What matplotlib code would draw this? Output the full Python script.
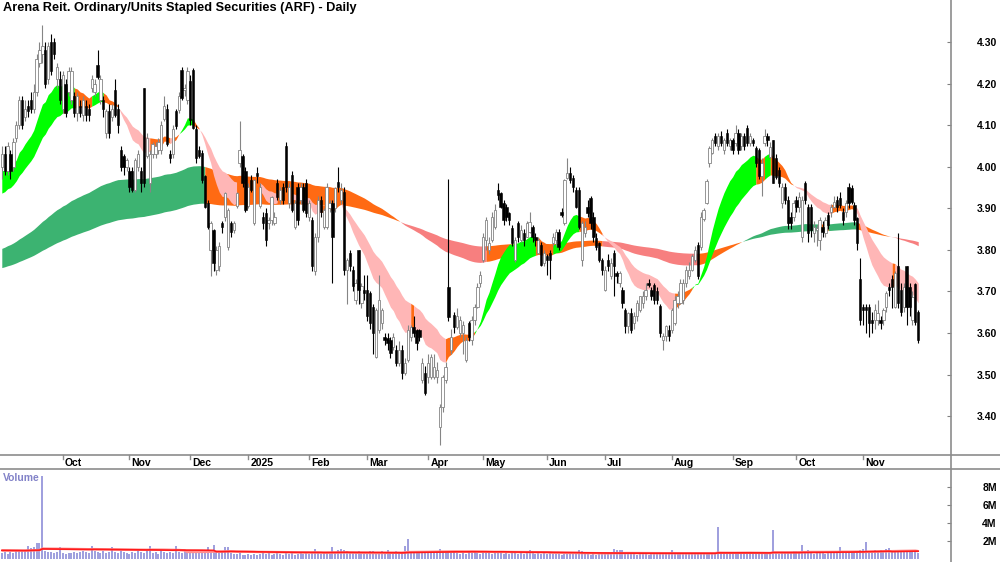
import numpy as np
import pandas as pd
import matplotlib
matplotlib.use('Agg')
import matplotlib.pyplot as plt
from matplotlib.lines import Line2D
from matplotlib.transforms import blended_transform_factory

plt.rcParams['font.family'] = ['Liberation Sans', 'DejaVu Sans']

# ── Data (one line per month) ────────────────────────────────
title = 'Arena Reit. Ordinary/Units Stapled Securities (ARF) - Daily'
asx_holidays = ['2024-12-25', '2024-12-26', '2025-01-01', '2025-01-27',
                '2025-04-18', '2025-04-21', '2025-04-25', '2025-06-09']

opens = [
    4.00, 4.03, 3.99, 4.03, 4.00, 4.07, 4.10, 4.16, 4.12, 4.145, 4.16, 4.14, 4.18, 4.25, 4.27, 4.28, 4.21, 4.30, 4.30, 4.21, 4.21,
    4.14, 4.20, 4.18, 4.16, 4.17, 4.13, 4.145, 4.125, 4.145, 4.14, 4.19, 4.18, 4.245, 4.16, 4.16, 4.08, 4.135, 4.12, 4.185, 4.14, 4.04, 4.025, 4.00,
    3.99, 3.99, 3.945, 4.00, 3.99, 4.19, 4.025, 3.96, 4.03, 4.03, 4.04, 4.04, 4.115, 4.14, 4.03, 4.03, 4.133, 4.137, 4.233, 4.185, 4.16,
    4.205, 4.233, 4.09, 4.04, 4.033, 3.977, 3.912, 3.80, 3.848, 3.752, 3.76, 3.864, 3.88, 3.808, 3.864, 3.848, 3.905, 4.009, 4.025, 3.99,
    3.905, 3.968, 3.864, 3.985, 3.905, 3.88, 3.888, 3.864, 3.872, 3.864, 3.96, 3.92, 3.952, 4.049, 3.912, 3.98, 3.856, 3.952, 3.92, 3.952, 3.96,
    3.88, 3.872, 3.75, 3.832, 3.92, 3.856, 3.856, 3.90, 3.912, 3.90, 3.964, 3.92, 3.94, 3.752, 3.792, 3.752, 3.68, 3.80, 3.672, 3.704,
    3.704, 3.695, 3.663, 3.543, 3.607, 3.623, 3.591, 3.587, 3.583, 3.567, 3.56, 3.527, 3.56, 3.503, 3.535, 3.591, 3.615, 3.607, 3.607, 3.487, 3.503,
    3.495, 3.495, 3.495, 3.495, 3.375, 3.423, 3.487, 3.711, 3.56, 3.643, 3.615, 3.599, 3.60, 3.535, 3.623, 3.583, 3.631, 3.663, 3.72,
    3.776, 3.824, 3.80, 3.824, 3.856, 3.944, 3.936, 3.912, 3.904, 3.888, 3.852, 3.776, 3.864, 3.824, 3.84, 3.832, 3.844, 3.856, 3.832, 3.792, 3.812, 3.768,
    3.784, 3.792, 3.816, 3.824, 3.844, 3.892, 3.864, 3.972, 3.984, 3.972, 3.944, 3.944, 3.776, 3.84, 3.904, 3.924, 3.88, 3.828, 3.816, 3.776,
    3.704, 3.776, 3.736, 3.792, 3.744, 3.72, 3.704, 3.656, 3.616, 3.648, 3.624, 3.64, 3.656, 3.672, 3.688, 3.72, 3.704, 3.716, 3.70, 3.664, 3.584, 3.592, 3.608,
    3.608, 3.624, 3.672, 3.672, 3.68, 3.72, 3.736, 3.752, 3.776, 3.812, 3.808, 3.873, 3.913, 4.009, 4.033, 4.073, 4.049, 4.073, 4.041, 4.081, 4.049,
    4.065, 4.057, 4.081, 4.049, 4.073, 4.093, 4.057, 4.065, 4.045, 4.041, 3.977, 4.057, 4.073, 4.024, 4.064, 4.02, 3.992, 3.912, 3.952, 3.92, 3.88, 3.88,
    3.92, 3.904, 3.832, 3.96, 3.904, 3.904, 3.84, 3.848, 3.824, 3.856, 3.84, 3.884, 3.892, 3.904, 3.92, 3.924, 3.892, 3.892, 3.952, 3.948, 3.908, 3.876, 3.731,
    3.663, 3.663, 3.663, 3.631, 3.631, 3.631, 3.631, 3.631, 3.663, 3.711, 3.731, 3.663, 3.76, 3.703, 3.663, 3.76, 3.711, 3.631, 3.719, 3.651,
]

closes = [
    4.03, 3.99, 4.05, 3.99, 4.06, 4.10, 4.16, 4.10, 4.14, 4.135, 4.14, 4.18, 4.26, 4.28, 4.29, 4.20, 4.29, 4.23, 4.27, 4.24, 4.16,
    4.22, 4.13, 4.23, 4.23, 4.13, 4.17, 4.13, 4.16, 4.125, 4.125, 4.21, 4.20, 4.215, 4.21, 4.14, 4.135, 4.08, 4.14, 4.125, 4.10, 4.00, 4.00, 4.015,
    3.95, 3.945, 4.015, 4.03, 3.96, 3.96, 4.07, 4.03, 4.055, 4.05, 4.06, 4.10, 4.145, 4.055, 4.02, 4.09, 4.097, 4.17, 4.165, 4.19, 4.23,
    4.113, 4.093, 4.02, 4.025, 3.968, 3.904, 3.856, 3.864, 3.768, 3.80, 3.81, 3.856, 3.936, 3.896, 3.844, 3.864, 3.936, 4.04, 3.96, 3.896,
    3.952, 3.944, 3.968, 3.977, 3.952, 3.864, 3.824, 3.872, 3.928, 3.88, 3.928, 3.944, 3.92, 3.952, 3.952, 3.896, 3.912, 3.872, 3.952, 3.896, 3.888,
    3.912, 3.76, 3.83, 3.92, 3.892, 3.896, 3.952, 3.912, 3.832, 3.948, 3.952, 3.944, 3.752, 3.776, 3.76, 3.712, 3.72, 3.704, 3.712, 3.696,
    3.64, 3.623, 3.60, 3.655, 3.68, 3.655, 3.583, 3.575, 3.551, 3.591, 3.527, 3.56, 3.503, 3.527, 3.607, 3.615, 3.599, 3.575, 3.591, 3.527, 3.455,
    3.527, 3.543, 3.519, 3.511, 3.423, 3.495, 3.519, 3.639, 3.59, 3.615, 3.64, 3.631, 3.62, 3.583, 3.591, 3.631, 3.663, 3.711, 3.74,
    3.832, 3.872, 3.816, 3.88, 3.896, 3.932, 3.904, 3.872, 3.88, 3.872, 3.816, 3.824, 3.832, 3.848, 3.824, 3.864, 3.868, 3.832, 3.824, 3.824, 3.764, 3.792,
    3.776, 3.776, 3.832, 3.844, 3.808, 3.884, 3.968, 3.984, 3.968, 3.952, 3.904, 3.856, 3.864, 3.856, 3.888, 3.864, 3.832, 3.808, 3.776, 3.752,
    3.752, 3.76, 3.768, 3.76, 3.736, 3.744, 3.672, 3.616, 3.648, 3.608, 3.64, 3.672, 3.688, 3.688, 3.704, 3.716, 3.688, 3.68, 3.68, 3.60, 3.592, 3.616, 3.592,
    3.656, 3.68, 3.688, 3.72, 3.72, 3.752, 3.752, 3.784, 3.80, 3.736, 3.88, 3.897, 3.965, 4.045, 4.065, 4.057, 4.073, 4.057, 4.065, 4.057, 4.065,
    4.041, 4.081, 4.041, 4.073, 4.049, 4.057, 4.073, 4.057, 4.009, 3.977, 4.009, 4.073, 4.065, 4.048, 3.96, 3.976, 3.96, 3.952, 3.92, 3.864, 3.864, 3.912,
    3.904, 3.928, 3.92, 3.92, 3.84, 3.848, 3.856, 3.852, 3.872, 3.844, 3.872, 3.86, 3.904, 3.916, 3.904, 3.908, 3.872, 3.912, 3.912, 3.916, 3.872, 3.816, 3.631,
    3.655, 3.655, 3.623, 3.623, 3.655, 3.647, 3.623, 3.655, 3.695, 3.703, 3.711, 3.744, 3.671, 3.651, 3.711, 3.663, 3.663, 3.687, 3.627, 3.583,
]

highs = [
    4.05, 4.05, 4.06, 4.04, 4.07, 4.11, 4.17, 4.17, 4.16, 4.16, 4.18, 4.20, 4.27, 4.30, 4.34, 4.30, 4.30, 4.32, 4.31, 4.25, 4.23,
    4.23, 4.21, 4.24, 4.24, 4.18, 4.18, 4.16, 4.17, 4.16, 4.15, 4.22, 4.21, 4.28, 4.22, 4.17, 4.14, 4.15, 4.15, 4.21, 4.15, 4.05, 4.03, 4.02,
    4.00, 4.00, 4.02, 4.04, 4.00, 4.19, 4.08, 4.04, 4.06, 4.06, 4.07, 4.11, 4.17, 4.15, 4.04, 4.10, 4.14, 4.18, 4.24, 4.20, 4.24,
    4.22, 4.237, 4.10, 4.05, 4.04, 3.98, 3.92, 3.87, 3.85, 3.81, 3.82, 3.87, 3.94, 3.90, 3.87, 3.87, 3.94, 4.11, 4.03, 4.00,
    3.96, 3.98, 3.97, 4.00, 3.96, 3.89, 3.90, 3.88, 3.93, 3.89, 3.97, 3.95, 3.96, 4.06, 3.96, 3.99, 3.92, 3.96, 3.96, 3.96, 3.97,
    3.92, 3.88, 3.84, 3.93, 3.93, 3.90, 3.96, 3.92, 3.92, 3.95, 4.00, 3.96, 3.95, 3.78, 3.80, 3.76, 3.73, 3.80, 3.72, 3.74,
    3.74, 3.70, 3.67, 3.66, 3.74, 3.66, 3.60, 3.60, 3.59, 3.60, 3.57, 3.58, 3.57, 3.54, 3.62, 3.62, 3.64, 3.61, 3.61, 3.54, 3.52,
    3.55, 3.55, 3.55, 3.53, 3.43, 3.50, 3.53, 3.97, 3.61, 3.65, 3.66, 3.64, 3.63, 3.59, 3.63, 3.64, 3.67, 3.72, 3.75,
    3.84, 3.88, 3.83, 3.89, 3.91, 3.96, 3.94, 3.92, 3.91, 3.89, 3.86, 3.83, 3.87, 3.86, 3.85, 3.87, 3.89, 3.86, 3.84, 3.83, 3.82, 3.80,
    3.79, 3.80, 3.84, 3.85, 3.85, 3.90, 3.97, 4.02, 4.00, 3.98, 3.95, 3.95, 3.87, 3.87, 3.92, 3.93, 3.89, 3.84, 3.82, 3.78,
    3.76, 3.79, 3.78, 3.80, 3.75, 3.75, 3.71, 3.66, 3.65, 3.66, 3.65, 3.68, 3.69, 3.70, 3.72, 3.73, 3.71, 3.72, 3.71, 3.67, 3.60, 3.62, 3.62,
    3.66, 3.69, 3.70, 3.73, 3.73, 3.76, 3.77, 3.79, 3.81, 3.82, 3.89, 3.90, 3.97, 4.05, 4.07, 4.08, 4.08, 4.085, 4.07, 4.09, 4.07,
    4.07, 4.10, 4.09, 4.08, 4.08, 4.10, 4.08, 4.07, 4.05, 4.045, 4.02, 4.09, 4.08, 4.06, 4.065, 4.03, 4.00, 3.96, 3.96, 3.93, 3.89, 3.92,
    3.93, 3.94, 3.93, 3.965, 3.91, 3.91, 3.87, 3.86, 3.88, 3.87, 3.88, 3.89, 3.91, 3.93, 3.93, 3.94, 3.90, 3.92, 3.96, 3.955, 3.915, 3.88, 3.78,
    3.67, 3.67, 3.67, 3.65, 3.67, 3.68, 3.64, 3.66, 3.70, 3.72, 3.74, 3.75, 3.84, 3.72, 3.72, 3.76, 3.72, 3.70, 3.72, 3.655,
]

lows = [
    3.97, 3.98, 3.98, 3.97, 3.99, 4.06, 4.09, 4.09, 4.11, 4.12, 4.13, 4.13, 4.17, 4.24, 4.25, 4.19, 4.20, 4.22, 4.26, 4.19, 4.15,
    4.13, 4.12, 4.17, 4.15, 4.12, 4.11, 4.12, 4.11, 4.11, 4.11, 4.18, 4.17, 4.21, 4.15, 4.12, 4.07, 4.07, 4.11, 4.12, 4.08, 3.99, 3.98, 3.99,
    3.94, 3.94, 3.94, 3.99, 3.94, 3.95, 4.02, 3.94, 4.02, 4.02, 4.03, 4.03, 4.11, 4.05, 4.01, 4.02, 4.09, 4.13, 4.16, 4.17, 4.15,
    4.10, 4.09, 4.01, 4.02, 3.96, 3.90, 3.85, 3.736, 3.75, 3.74, 3.75, 3.84, 3.87, 3.80, 3.83, 3.84, 3.90, 4.00, 3.95, 3.89,
    3.90, 3.94, 3.86, 3.96, 3.90, 3.85, 3.81, 3.85, 3.86, 3.86, 3.92, 3.91, 3.91, 3.94, 3.90, 3.89, 3.85, 3.86, 3.91, 3.89, 3.88,
    3.87, 3.75, 3.74, 3.82, 3.88, 3.85, 3.85, 3.89, 3.72, 3.89, 3.94, 3.91, 3.74, 3.67, 3.75, 3.70, 3.67, 3.67, 3.66, 3.68,
    3.63, 3.61, 3.55, 3.54, 3.60, 3.61, 3.57, 3.56, 3.54, 3.56, 3.52, 3.52, 3.49, 3.50, 3.53, 3.58, 3.59, 3.56, 3.58, 3.48, 3.45,
    3.48, 3.49, 3.49, 3.48, 3.33, 3.41, 3.48, 3.63, 3.55, 3.60, 3.61, 3.59, 3.55, 3.53, 3.58, 3.57, 3.62, 3.66, 3.71,
    3.77, 3.80, 3.79, 3.82, 3.85, 3.92, 3.90, 3.86, 3.87, 3.86, 3.81, 3.77, 3.82, 3.82, 3.81, 3.83, 3.84, 3.82, 3.81, 3.79, 3.76, 3.76,
    3.74, 3.73, 3.81, 3.81, 3.80, 3.88, 3.86, 3.97, 3.96, 3.94, 3.90, 3.85, 3.76, 3.83, 3.88, 3.85, 3.82, 3.80, 3.77, 3.74,
    3.70, 3.75, 3.73, 3.69, 3.72, 3.71, 3.66, 3.60, 3.60, 3.60, 3.61, 3.63, 3.65, 3.66, 3.68, 3.71, 3.68, 3.67, 3.67, 3.59, 3.56, 3.58, 3.58,
    3.60, 3.62, 3.66, 3.67, 3.67, 3.71, 3.73, 3.75, 3.77, 3.73, 3.80, 3.87, 3.91, 4.00, 4.03, 4.05, 4.04, 4.05, 4.03, 4.05, 4.04,
    4.03, 4.05, 4.03, 4.04, 4.04, 4.05, 4.05, 4.05, 4.00, 3.97, 3.93, 4.05, 4.05, 4.02, 3.96, 3.97, 3.95, 3.90, 3.91, 3.85, 3.85, 3.87,
    3.89, 3.89, 3.82, 3.91, 3.82, 3.83, 3.82, 3.81, 3.80, 3.83, 3.83, 3.85, 3.88, 3.90, 3.89, 3.90, 3.86, 3.88, 3.90, 3.91, 3.86, 3.80, 3.62,
    3.62, 3.60, 3.59, 3.60, 3.61, 3.62, 3.61, 3.62, 3.65, 3.69, 3.66, 3.66, 3.66, 3.64, 3.65, 3.62, 3.64, 3.62, 3.62, 3.575,
]

# volume in millions
volumes = [
    0.6, 0.7, 0.5, 0.7, 0.6, 0.9, 0.9, 0.9, 1.0, 1.4, 1.2, 1.3, 1.7, 1.8, 9.3, 0.8, 0.7, 0.7, 0.6, 0.7, 1.3,
    0.6, 0.5, 0.6, 0.6, 0.7, 0.6, 0.7, 0.8, 0.7, 0.6, 1.4, 0.8, 0.7, 0.6, 0.8, 0.6, 0.7, 1.3, 0.7, 0.6, 0.8, 0.7, 0.6,
    0.5, 0.7, 0.6, 0.8, 0.7, 0.6, 0.9, 1.4, 0.6, 0.7, 0.5, 0.8, 0.7, 0.6, 0.7, 0.6, 1.4, 0.7, 0.6, 0.8, 0.7,
    0.7, 0.8, 0.8, 0.9, 0.9, 0.8, 1.3, 0.9, 1.5, 0.8, 0.6, 0.9, 1.3, 1.3, 0.6, 0.5, 0.5, 0.6, 0.4, 0.4,
    0.5, 0.4, 0.5, 0.4, 0.5, 0.6, 0.5, 0.6, 0.4, 0.5, 0.6, 0.5, 0.4, 0.6, 0.5, 0.6, 0.4, 0.5, 0.6, 0.5, 0.6,
    0.5, 0.6, 1.1, 0.6, 0.5, 0.6, 0.7, 0.5, 1.3, 0.7, 1.0, 1.1, 1.0, 0.8, 0.6, 0.7, 0.6, 0.8, 0.6, 0.7,
    0.7, 0.8, 0.8, 0.6, 0.7, 0.8, 0.7, 1.0, 0.7, 0.6, 0.8, 0.7, 0.6, 1.4, 2.2, 0.8, 0.7, 0.9, 0.7, 0.8, 0.7,
    0.8, 0.7, 0.6, 0.7, 1.1, 0.8, 0.9, 0.8, 0.6, 0.7, 0.6, 0.5, 0.6, 0.5, 0.9, 0.6, 0.7, 0.6, 0.5,
    0.6, 0.7, 0.6, 0.5, 0.6, 0.7, 0.6, 0.5, 0.6, 0.5, 0.6, 0.7, 0.5, 0.6, 0.5, 0.6, 1.0, 0.6, 0.5, 0.6, 0.5, 0.6,
    0.5, 0.6, 0.5, 0.6, 0.5, 0.4, 0.6, 0.5, 0.6, 0.5, 0.6, 1.0, 0.8, 0.6, 0.5, 0.4, 0.5, 0.4, 0.5, 0.6,
    0.5, 0.6, 0.5, 1.1, 1.0, 1.0, 1.0, 0.6, 0.5, 0.6, 0.5, 0.4, 0.5, 0.6, 0.5, 0.4, 0.5, 0.6, 0.5, 0.5, 0.6, 0.5, 0.5,
    1.0, 0.5, 0.6, 0.5, 0.5, 0.6, 0.5, 0.5, 0.6, 0.5, 0.6, 0.7, 0.6, 0.5, 0.6, 0.6, 3.5, 0.6, 0.5, 0.6, 0.5,
    0.5, 0.6, 0.5, 0.6, 0.5, 0.6, 0.7, 0.5, 0.6, 0.7, 0.5, 0.6, 0.5, 0.6, 3.2, 0.6, 0.5, 0.6, 0.7, 0.6, 0.7, 0.8,
    0.8, 0.7, 1.5, 0.7, 1.0, 0.6, 0.5, 0.6, 0.7, 0.6, 0.5, 0.6, 0.7, 0.6, 0.8, 1.3, 0.6, 0.7, 0.6, 0.8, 0.7, 0.8, 1.0,
    1.1, 1.9, 0.8, 0.9, 1.0, 0.9, 1.0, 0.9, 1.1, 1.2, 0.9, 1.0, 0.9, 0.8, 0.9, 0.9, 0.8, 0.9, 0.9, 0.6,
]
volume_avg_start = 0.92   # level of the volume average at the left edge

# ribbon start values at the left edge of the chart
short_fast_start, short_slow_start = 3.985, 3.93
long_fast_start, long_slow_start = 3.80, 3.755
short_periods = (15, 30)
long_periods = (130, 240)

price_ticks = [3.40, 3.50, 3.60, 3.70, 3.80, 3.90, 4.00, 4.10, 4.20, 4.30]
volume_ticks = [2, 4, 6, 8]

# ── Prepare ──────────────────────────────────────────────────
dates = pd.bdate_range('2024-09-02', '2025-11-28')
dates = dates[~dates.isin(pd.to_datetime(asx_holidays))]

o = np.array(opens)
c = np.array(closes)
h = np.array(highs)
l = np.array(lows)
v = np.array(volumes)
n = len(c)
assert len(o) == len(h) == len(l) == len(v) == len(dates) == n
h = np.maximum(h, np.maximum(o, c))
l = np.minimum(l, np.minimum(o, c))
x = np.arange(n)


def ema(values, period, start):
    a = 2.0 / (period + 1)
    out = []
    prev = start
    for val in values:
        prev = prev + a * (val - prev)
        out.append(prev)
    return np.array(out)


def ribbon_state(fast, slow, f0, s0, k):
    fp = np.concatenate([[f0] * k, fast])
    sp = np.concatenate([[s0] * k, slow])
    df = fast - fp[:n]
    ds = slow - sp[:n]
    up = (fast > slow) & (df > 0) & (ds > 0)
    down = (fast < slow) & (df < 0) & (ds < 0)
    return np.where(up, 'up', np.where(down, 'down', 'mixed'))


def draw_ribbon(axis, fast, slow, state, colors):
    start = 0
    for i in range(1, n + 1):
        if i == n or state[i] != state[start]:
            seg = slice(max(start - 1, 0), i)
            axis.fill_between(x[seg], fast[seg], slow[seg], color=colors[state[start]],
                              lw=0, zorder=1)
            start = i


def padded_mean(values, window, start):
    out = []
    for i in range(len(values)):
        got = values[max(0, i - window + 1):i + 1]
        out.append((got.sum() + (window - len(got)) * start) / window)
    return np.array(out)


sf = ema(c, short_periods[0], short_fast_start)
ss = ema(c, short_periods[1], short_slow_start)
lf = ema(c, long_periods[0], long_fast_start)
ls = ema(c, long_periods[1], long_slow_start)

# ── Figure ───────────────────────────────────────────────────
W, H = 1000, 562
fig = plt.figure(figsize=(10, 5.62), dpi=100)
ax = fig.add_axes([0, 1 - 455 / H, 951 / W, 455 / H])
axv = fig.add_axes([0, 0, 951 / W, 93 / H])

draw_ribbon(ax, lf, ls, ribbon_state(lf, ls, long_fast_start, long_slow_start, 6),
            {'up': '#3CB371', 'down': '#F77F7F', 'mixed': '#FF6A13'})
draw_ribbon(ax, sf, ss, ribbon_state(sf, ss, short_fast_start, short_slow_start, 3),
            {'up': '#00FF00', 'down': '#FFB6B6', 'mixed': '#FF6A13'})

up = c >= o
body_low = np.minimum(o, c)
body_h = np.maximum(np.abs(c - o), 0.003)
ax.vlines(x[up], l[up], h[up], color='#858585', lw=0.8, zorder=2)
ax.vlines(x[~up], l[~up], h[~up], color='black', lw=0.8, zorder=2)
ax.bar(x[up], body_h[up], bottom=body_low[up], width=0.8, facecolor='white',
       edgecolor='#858585', lw=0.6, zorder=3)
ax.bar(x[~up], body_h[~up], bottom=body_low[~up], width=0.8, facecolor='black',
       edgecolor='black', lw=0.4, zorder=3)

ax.set_xlim(-0.62, 327.3)
ax.set_ylim(3.3065, 4.401)

# volume panel
axv.vlines(x, 0, v, color='#8484D4', lw=1.1)
vol_avg = padded_mean(v, 60, volume_avg_start)
vol_avg2 = padded_mean(v, 50, volume_avg_start)
axv.plot(x, vol_avg2, color='#FF9090', lw=1.8, solid_capstyle='butt')
axv.plot(x, vol_avg, color='#FF1A1A', lw=1.2)
axv.set_xlim(-0.62, 327.3)
axv.set_ylim(-0.39, 10.07)

for a in (ax, axv):
    for s in a.spines.values():
        s.set_visible(False)
    a.set_xticks([])
    a.yaxis.tick_right()
    a.tick_params(axis='y', direction='in', length=3, color='#808080', pad=33,
                  labelsize=7.5)

ax.set_yticks(price_ticks)
ax.set_yticklabels([f'{t:.2f}' for t in price_ticks])
axv.set_yticks(volume_ticks)
axv.set_yticklabels([f'{t}M' for t in volume_ticks])
for a in (ax, axv):
    for t in a.get_yticklabels():
        t.set_horizontalalignment('right')
        t.set_fontweight('bold')

# frame lines
line_kw = dict(transform=fig.transFigure, color='#8c8c8c', lw=1.2)
fig.add_artist(Line2D([0, 1], [1 - 455 / H] * 2, **line_kw))
fig.add_artist(Line2D([0, 1], [1 - 469 / H] * 2, **line_kw))
fig.add_artist(Line2D([951 / W] * 2, [0, 1], **line_kw))

# month labels
trans = blended_transform_factory(ax.transData, fig.transFigure)
months = dates.to_period('M')
for i in range(1, n):
    if months[i] != months[i - 1]:
        label = str(dates[i].year) if dates[i].month == 1 else dates[i].strftime('%b')
        fig.add_artist(Line2D([i, i], [1 - 455 / H, 1 - 459 / H], transform=trans,
                              color='#8c8c8c', lw=1))
        ax.annotate(label, xy=(i, 1 - 462.5 / H), xycoords=trans, xytext=(1.6, 0),
                    textcoords='offset points', ha='left', va='center',
                    fontsize=7.5, fontweight='bold', annotation_clip=False)

fig.text(3 / W, 1 - 8 / H, title, ha='left', va='center', fontsize=9.2, fontweight='bold')
fig.text(3 / W, 1 - 478 / H, 'Volume', ha='left', va='center', fontsize=7.5,
         fontweight='bold', color='#8282C8')

fig.savefig('out.png', dpi=100)
